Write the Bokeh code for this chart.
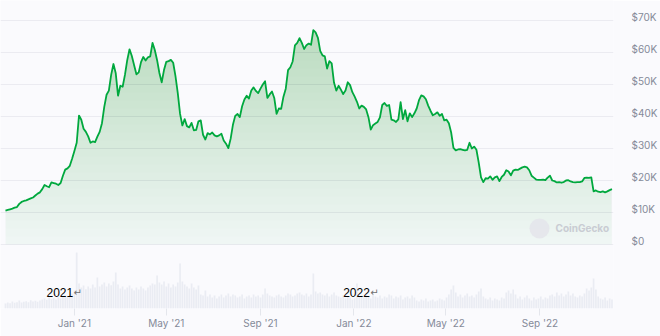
import numpy as np
import pandas as pd
from bokeh.plotting import figure
from bokeh.models import (Range1d, LinearAxis, Grid, FixedTicker, DatetimeTickFormatter,
                          CustomJSTickFormatter, Label, BoxAnnotation)
from bokeh.embed import file_html
from bokeh.resources import INLINE

# ---------------- data ----------------
start_date = "2020-10-03"
step_days = 3

# BTC price in thousands of USD, one value every 3 days
price_k = [
    10.6, 10.8, 11.0, 11.2, 11.5, 11.7, 12.7, 13.3, 13.6, 13.8,
    14.1, 14.4, 14.7, 15.3, 15.9, 16.3, 17.3, 18.6, 18.2, 17.9,
    19.4, 19.2, 19.0, 18.6, 19.2, 21.5, 23.4, 23.8, 24.6, 26.8,
    29.2, 31.8, 40.3, 39.0, 36.2, 35.2, 33.8, 31.8, 32.2, 32.0,
    33.7, 35.2, 37.9, 43.0, 46.8, 48.1, 53.0, 56.4, 53.5, 46.5,
    49.6, 49.3, 53.0, 57.6, 61.0, 58.9, 56.0, 53.2, 53.8, 57.0,
    58.6, 57.5, 58.5, 58.8, 63.0, 60.8, 57.6, 53.6, 50.7, 54.5,
    57.1, 57.3, 57.7, 56.8, 52.6, 47.3, 40.8, 37.2, 39.2, 37.0,
    36.6, 38.0, 35.7, 35.8, 38.5, 38.8, 34.3, 32.8, 34.8, 34.4,
    35.0, 34.1, 33.8, 34.1, 34.6, 32.5, 31.5, 30.1, 33.0, 37.4,
    40.2, 40.8, 39.8, 43.2, 45.3, 46.5, 45.6, 48.1, 49.1, 48.0,
    47.3, 48.7, 50.0, 51.0, 45.8, 46.9, 47.8, 45.8, 40.8, 42.5,
    42.4, 46.2, 48.7, 54.5, 55.4, 57.2, 62.2, 63.0, 64.5, 63.0,
    61.1, 62.3, 62.8, 62.4, 67.0, 66.3, 64.6, 60.5, 59.1, 58.8,
    55.0, 57.3, 56.6, 50.6, 48.1, 49.6, 48.4, 47.0, 48.1, 50.7,
    49.8, 47.6, 46.2, 44.6, 42.5, 43.4, 43.0, 42.2, 39.8, 35.9,
    37.3, 37.8, 38.3, 39.7, 43.6, 44.2, 43.3, 43.6, 39.0, 38.8,
    38.3, 39.1, 44.5, 39.2, 42.0, 38.5, 41.0, 39.8, 41.0, 42.5,
    45.1, 46.6, 46.3, 45.4, 43.4, 41.8, 40.4, 40.8, 41.3, 40.2,
    40.8, 38.8, 39.0, 37.9, 35.0, 30.2, 29.4, 29.7, 29.8, 29.6,
    29.4, 29.6, 31.8, 30.0, 30.6, 29.6, 25.6, 21.0, 19.5, 20.7,
    20.6, 21.3, 20.2, 21.0, 21.3, 19.8, 21.1, 21.8, 23.2, 22.8,
    21.6, 23.1, 23.4, 23.3, 23.7, 24.1, 24.3, 24.1, 23.2, 21.5,
    20.9, 20.3, 20.2, 20.2, 20.3, 20.1, 20.9, 21.5, 20.0, 19.8,
    19.4, 19.5, 19.3, 19.5, 20.0, 20.1, 19.7, 19.5, 19.4, 19.5,
    19.5, 19.7, 20.8, 20.9, 20.8, 21.0, 16.6, 16.9, 16.5, 16.4,
    16.6, 16.3, 16.6, 17.0, 17.3,
]

# traded volume in billions of USD, same dates
volume_b = [
    15, 18, 16, 21, 17, 19, 24, 18, 20, 22, 19, 25, 21, 23, 20, 24,
    27, 30, 26, 33, 28, 31, 27, 34, 30, 36, 40, 35, 42, 45,
    54, 168, 75, 63, 69, 58, 66, 60, 72, 63, 93, 66,
    72, 78, 66, 75, 70, 81, 108, 72,
    60, 66, 57, 63, 69, 60, 54, 63, 57, 66, 60, 54, 63, 69,
    75, 72, 99, 78, 72, 81, 66, 75, 63, 72, 66, 78,
    135, 81, 72, 66, 60, 75, 63, 57, 69,
    42, 39, 54, 36, 42, 33, 39, 30, 36, 42, 33, 39, 45, 36, 42, 39, 33, 36, 42, 30,
    36, 39, 33, 42, 36, 39,
    33, 42, 60, 45, 39, 36, 33, 39, 42, 36, 33, 39, 45, 42, 36, 39, 45,
    48, 42, 39, 45, 36, 42, 105, 51, 45, 48, 42, 39, 45, 36, 42, 48, 39,
    36, 33, 39, 30, 36, 33, 27, 30, 75, 36, 39, 33, 42, 36, 30, 45, 36, 33, 39, 30,
    36, 33, 42, 39, 30, 36, 33, 39, 27, 33, 36, 30, 39, 33,
    24, 21, 27, 24, 30, 21, 24, 27, 21, 24, 30, 27, 24, 33,
    42, 57, 69, 48, 36, 42, 33, 39, 45, 36, 39, 33, 42,
    51, 60, 36, 30, 27, 33, 24, 30, 27, 24, 33, 30,
    48, 54, 45, 57, 42,
    30, 36, 27, 33, 39, 30, 24, 33, 27, 30, 36, 27, 33, 30, 39,
    42, 36, 48, 39, 45, 36, 42, 51, 39, 45, 36,
    33, 39, 36, 45, 60, 54, 63, 90, 57,
    36, 30, 27, 33, 24, 30, 27,
]

price_ticks = [0, 10000, 20000, 30000, 40000, 50000, 60000, 70000]
month_ticks = ["2021-01-01", "2021-05-01", "2021-09-01",
               "2022-01-01", "2022-05-01", "2022-09-01"]
year_notes = ["2021", "2022"]

assert len(price_k) == len(volume_b)

# ---------------- styling ----------------
BG = "#fafafd"
GREEN = "#00a83e"
GRID = "#ebebf1"
LABEL = "#858a99"
VOL = "#e6e9f0"

dates = pd.date_range(start_date, periods=len(price_k), freq=f"{step_days}D")
price = np.array(price_k) * 1000.0
volume = np.array(volume_b, dtype=float)

p = figure(width=660, height=336, x_axis_type="datetime", y_axis_location=None,
           output_backend="svg", toolbar_location=None,
           x_range=Range1d(pd.Timestamp("2020-09-26 12:00"), pd.Timestamp("2022-12-06")),
           y_range=Range1d(-20000, 76250),
           min_border_left=0, min_border_right=42, min_border_top=0, min_border_bottom=28)
p.background_fill_color = BG
p.border_fill_color = BG
p.outline_line_color = None
p.grid.visible = False

p.extra_y_ranges = {"lab": Range1d(-21250, 75000), "vol": Range1d(0, 924)}

grid = Grid(dimension=1, ticker=FixedTicker(ticks=price_ticks),
            grid_line_color=GRID, grid_line_width=1)
p.add_layout(grid)

# volume bars
p.vbar(x=dates, top=volume, width=2.2 * 86400000, y_range_name="vol",
       fill_color=VOL, line_color=None, fill_alpha=0.8)

# gradient-like fill under the price line
p.varea(x=dates, y1=0, y2=price, fill_color=GREEN, fill_alpha=0.035)
for level in np.arange(0, 70000, 2500):
    p.varea(x=dates, y1=np.minimum(price, level), y2=price,
            fill_color=GREEN, fill_alpha=0.0075)

p.line(x=dates, y=price, line_color=GREEN, line_width=1.8, line_join="round")

# right price axis
yax = LinearAxis(y_range_name="lab", ticker=FixedTicker(ticks=price_ticks),
                 formatter=CustomJSTickFormatter(code="return tick == 0 ? '$0' : '$' + (tick/1000) + 'K';"))
yax.axis_line_color = None
yax.major_tick_line_color = None
yax.minor_tick_line_color = None
yax.major_label_standoff = 12
yax.major_label_text_font = "Inter"
yax.major_label_text_font_size = "10px"
yax.major_label_text_color = LABEL
p.add_layout(yax, "right")

# bottom date axis
xax = p.xaxis[0]
xax.ticker = FixedTicker(ticks=[pd.Timestamp(m).value // 10**6 for m in month_ticks])
fmt = "%b '%y"
xax.formatter = DatetimeTickFormatter(days=fmt, months=fmt, years=fmt)
xax.axis_line_color = None
xax.major_tick_line_color = "#e4e6ec"
xax.major_tick_out = 7
xax.major_tick_in = 0
xax.minor_tick_line_color = None
xax.major_label_standoff = 1
xax.major_label_text_font = "Inter"
xax.major_label_text_font_size = "10px"
xax.major_label_text_color = LABEL

# watermark
p.add_layout(BoxAnnotation(left=529, right=549, bottom=70, top=90,
                           left_units="screen", right_units="screen",
                           bottom_units="screen", top_units="screen",
                           fill_color="#e4e6eb", fill_alpha=0.9, line_color=None,
                           border_radius=10))
p.add_layout(Label(x=555, y=80.5, x_units="screen", y_units="screen", text="CoinGecko",
                   text_font="Inter", text_font_size="10px", text_font_style="bold",
                   text_color="#c9ccd3", text_baseline="middle", text_align="left"))

# year notes
for xs, ys, txt in [(46, 16.3, year_notes[0]), (342.7, 16.0, year_notes[1])]:
    p.add_layout(Label(x=xs, y=ys, x_units="screen", y_units="screen", text=txt,
                       text_font="Liberation Sans", text_font_size="12px",
                       text_color="#000000", text_baseline="middle", text_align="left"))
    p.add_layout(Label(x=xs + 27, y=ys, x_units="screen", y_units="screen", text="\u21b5",
                       text_font="DejaVu Sans", text_font_size="10px",
                       text_color="#6f6f6f", text_baseline="middle", text_align="left"))

open("out.html", "w").write(file_html(p, INLINE))
